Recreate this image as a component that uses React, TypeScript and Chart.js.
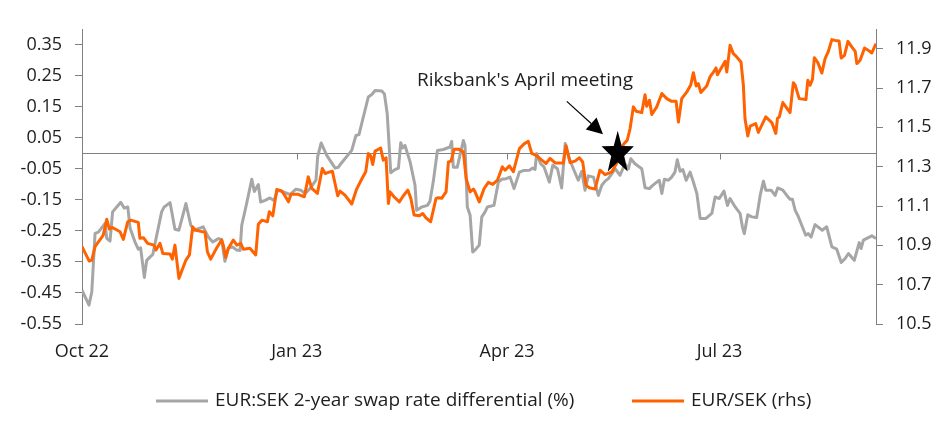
import React, { useEffect, useRef } from 'react';
import { Chart, registerables } from 'chart.js';

Chart.register(...registerables);

// ---- Data (x = days since 1 Oct 2022) ----
const xTickDays = [0, 92, 182, 273];
const xTickLabels = ['Oct 22', 'Jan 23', 'Apr 23', 'Jul 23'];
const leftTicks = [-0.55, -0.45, -0.35, -0.25, -0.15, -0.05, 0.05, 0.15, 0.25, 0.35];
const rightTicks = [10.5, 10.7, 10.9, 11.1, 11.3, 11.5, 11.7, 11.9];
const seriesLabels = ['EUR:SEK 2-year swap rate differential (%)', 'EUR/SEK (rhs)'];
const annotationText = "Riksbank's April meeting";

// EUR:SEK 2-year swap rate differential (%), [day, value]
const swapDiff: [number, number][] = [
  [0, -0.441], [3.0, -0.489], [4.2, -0.446], [5.6, -0.258], [7.0, -0.254], [9.9, -0.226], [10.6, -0.274], [12.0, -0.283],
  [13.1, -0.189], [16.6, -0.158], [18.1, -0.177], [19.6, -0.173], [20.6, -0.242], [22.7, -0.286], [24.1, -0.309], [25.1, -0.305],
  [26.7, -0.400], [27.7, -0.345], [30.3, -0.326], [31.7, -0.275], [34.1, -0.189], [35.2, -0.173], [37.7, -0.159], [39.8, -0.245],
  [41.5, -0.248], [44.5, -0.162], [46.6, -0.232], [48.0, -0.248], [51.9, -0.237], [54.1, -0.270], [56.0, -0.286], [58.4, -0.275],
  [59.8, -0.278], [61.2, -0.348], [62.7, -0.305], [64.5, -0.302], [66.3, -0.312], [67.7, -0.313], [68.4, -0.232], [70.5, -0.162],
  [72.7, -0.084], [73.8, -0.123], [75.5, -0.101], [76.5, -0.157], [78.4, -0.152], [80.5, -0.144], [82.2, -0.152], [83.8, -0.119],
  [86.2, -0.125], [89.1, -0.133], [91.6, -0.116], [93.7, -0.119], [95.5, -0.130], [97.6, -0.114], [100.2, -0.087], [100.9, -0.012],
  [102.4, 0.033], [104.8, -0.007], [108.4, -0.048], [109.8, -0.045], [110.5, -0.037], [115.5, 0.009], [117.3, 0.057], [118.6, 0.060],
  [122.6, 0.181], [124.1, 0.189], [125.5, 0.202], [128.4, 0.200], [129.5, 0.191], [130.7, 0.127], [132.2, -0.063], [134.0, -0.053],
  [135.5, -0.048], [136.5, 0.034], [137.3, 0.017], [138.3, 0.025], [140.5, -0.028], [142.6, -0.103], [143.3, -0.184], [145.5, -0.173],
  [147.9, -0.168], [149.0, -0.155], [150.4, -0.093], [152.2, 0.009], [154.7, 0.012], [157.6, 0.020], [158.3, 0.038], [159.0, -0.045],
  [160.7, -0.045], [163.3, 0.041], [164.0, 0.025], [165.0, -0.173], [166.2, -0.200], [167.3, -0.318], [168.3, -0.312], [170.1, -0.296],
  [171.2, -0.205], [172.6, -0.189], [173.6, -0.173], [176.4, -0.168], [178.3, -0.093], [179.7, -0.084], [181.6, -0.082], [183.3, -0.077],
  [185.0, -0.114], [187.3, -0.061], [189.0, -0.056], [191.6, -0.055], [193.0, -0.048], [194.0, -0.052], [194.7, -0.001], [196.4, -0.034],
  [197.9, -0.045], [200.1, -0.093], [201.6, -0.039], [203.6, -0.050], [205.4, -0.112], [206.9, 0.031], [208.7, -0.018], [210.4, -0.050],
  [212.5, -0.087], [214.0, -0.058], [215.4, -0.119], [216.8, -0.073], [219.0, -0.077], [221.1, -0.136], [222.6, -0.103], [224.0, -0.090],
  [225.4, -0.082], [226.9, -0.066], [228.3, -0.050], [230.4, -0.071], [232.5, -0.034], [234.0, -0.050], [235.0, -0.018], [236.8, -0.034],
  [239.7, -0.050], [241.1, -0.111], [243.0, -0.114], [244.0, -0.106], [246.1, -0.093], [247.2, -0.087], [248.3, -0.130], [249.4, -0.084],
  [251.1, -0.087], [252.5, -0.077], [253.9, -0.061], [254.9, -0.021], [256.1, -0.058], [257.3, -0.053], [258.7, -0.087], [260.4, -0.061],
  [261.8, -0.093], [263.3, -0.130], [264.7, -0.210], [267.2, -0.210], [269.7, -0.194], [271.1, -0.141], [272.9, -0.146], [274.9, -0.122],
  [276.4, -0.168], [277.5, -0.146], [279.7, -0.173], [281.8, -0.194], [282.8, -0.237], [283.6, -0.259], [285.1, -0.198], [286.8, -0.205],
  [288.9, -0.207], [290.4, -0.136], [291.8, -0.090], [292.8, -0.119], [295.1, -0.119], [296.8, -0.136], [297.9, -0.112], [300.1, -0.119],
  [301.8, -0.136], [303.2, -0.148], [304.2, -0.148], [305.4, -0.184], [306.5, -0.200], [308.2, -0.232], [309.9, -0.264], [311.0, -0.259],
  [312.2, -0.270], [313.9, -0.230], [317.0, -0.248], [318.9, -0.237], [321.1, -0.302], [323.2, -0.309], [325.1, -0.352], [326.8, -0.339],
  [328.2, -0.323], [330.7, -0.345], [332.8, -0.288], [333.6, -0.307], [334.6, -0.280], [338.2, -0.266], [340, -0.275],
];

// EUR/SEK (rhs), [day, value]
const eurSek: [number, number][] = [
  [0, 10.893], [3.1, 10.820], [4.2, 10.825], [5.6, 10.893], [9.1, 10.952], [10.6, 11.032], [11.7, 10.983], [13.0, 10.991],
  [16.3, 10.969], [17.7, 10.930], [19.6, 11.020], [20.9, 11.028], [24.1, 11.017], [24.8, 10.936], [26.3, 10.939], [28.1, 10.910],
  [30.8, 10.901], [31.7, 10.876], [33.4, 10.910], [34.6, 10.859], [37.7, 10.856], [38.7, 10.830], [39.8, 10.901], [41.5, 10.732],
  [44.5, 10.825], [46.0, 10.851], [47.4, 10.994], [48.4, 10.978], [52.7, 10.966], [53.7, 10.867], [55.1, 10.830], [57.7, 10.888],
  [59.8, 10.927], [60.5, 10.901], [61.5, 10.839], [62.7, 10.885], [64.8, 10.927], [66.3, 10.901], [68.0, 10.910], [69.1, 10.880],
  [71.9, 10.885], [74.4, 10.851], [75.5, 11.007], [77.0, 11.028], [79.4, 11.020], [80.2, 11.071], [81.7, 11.050], [83.4, 11.184],
  [85.5, 11.177], [86.9, 11.152], [88.4, 11.121], [89.5, 11.160], [92.2, 11.160], [95.2, 11.147], [96.9, 11.248], [98.4, 11.189],
  [100.8, 11.164], [102.9, 11.291], [104.1, 11.265], [105.5, 11.271], [107.2, 11.277], [109.5, 11.152], [110.5, 11.176], [112.6, 11.155],
  [115.5, 11.110], [117.6, 11.186], [119.8, 11.237], [121.5, 11.274], [122.6, 11.367], [123.6, 11.355], [124.5, 11.311], [125.5, 11.379],
  [127.9, 11.395], [129.0, 11.333], [130.2, 11.345], [131.2, 11.113], [131.9, 11.172], [133.6, 11.147], [135.9, 11.121], [137.6, 11.152],
  [139.5, 11.181], [140.8, 11.139], [142.2, 11.054], [144.5, 11.050], [145.9, 11.062], [147.3, 11.040], [149.3, 11.020], [151.6, 11.139],
  [152.6, 11.142], [154.0, 11.139], [155.9, 11.172], [156.9, 11.324], [158.0, 11.328], [159.4, 11.389], [161.2, 11.389], [163.3, 11.375],
  [164.5, 11.240], [166.2, 11.172], [167.6, 11.186], [168.3, 11.172], [170.1, 11.121], [172.2, 11.189], [174.0, 11.220], [175.9, 11.210],
  [177.9, 11.231], [180.0, 11.299], [181.2, 11.282], [183.0, 11.304], [184.7, 11.274], [187.3, 11.392], [189.3, 11.416], [191.1, 11.429],
  [192.6, 11.367], [194.4, 11.358], [196.9, 11.333], [198.7, 11.316], [200.4, 11.342], [202.6, 11.319], [206.1, 11.319], [207.3, 11.406],
  [209.0, 11.321], [211.1, 11.328], [213.0, 11.345], [214.4, 11.324], [215.8, 11.206], [217.3, 11.192], [219.7, 11.186], [221.8, 11.282],
  [224.0, 11.259], [226.9, 11.274], [228.9, 11.316], [231.8, 11.413], [233.5, 11.435], [234.7, 11.494], [236.1, 11.604], [237.3, 11.582],
  [239.7, 11.575], [241.1, 11.666], [241.8, 11.607], [243.0, 11.638], [244.0, 11.565], [246.1, 11.604], [248.3, 11.672], [250.4, 11.646],
  [252.5, 11.632], [254.4, 11.632], [255.4, 11.527], [256.8, 11.646], [259.0, 11.680], [260.7, 11.717], [261.8, 11.778], [263.0, 11.710],
  [263.9, 11.722], [265.0, 11.677], [267.5, 11.710], [268.9, 11.756], [270.4, 11.781], [271.5, 11.802], [272.1, 11.768], [274.0, 11.807],
  [275.4, 11.836], [276.1, 11.781], [277.5, 11.917], [278.9, 11.875], [279.7, 11.866], [282.2, 11.832], [283.2, 11.714], [283.9, 11.545],
  [285.1, 11.456], [286.1, 11.506], [288.5, 11.519], [289.6, 11.474], [291.1, 11.511], [292.8, 11.553], [295.4, 11.524], [297.1, 11.469],
  [297.8, 11.545], [298.6, 11.553], [300.1, 11.626], [303.2, 11.575], [304.6, 11.727], [305.4, 11.714], [307.1, 11.646], [310.0, 11.641],
  [310.8, 11.739], [311.8, 11.714], [312.8, 11.744], [313.6, 11.854], [315.1, 11.829], [316.8, 11.776], [318.2, 11.849], [319.6, 11.886],
  [321.1, 11.946], [322.5, 11.942], [324.2, 11.939], [325.1, 11.852], [326.5, 11.866], [328.0, 11.937], [329.7, 11.908], [331.1, 11.886],
  [331.8, 11.824], [333.2, 11.841], [335.1, 11.903], [336.8, 11.891], [338.2, 11.878], [339.3, 11.908], [340, 11.925],
];

// Annotation anchors in data units (day, left-axis value)
const starAt: [number, number] = [229.4, 0];
const arrowFrom: [number, number] = [207.6, 0.167];
const arrowTo: [number, number] = [223.1, 0.061];
const labelAt: [number, number] = [189.7, 0.234];

const GREY = '#A6A6A6';
const ORANGE = '#FF6200';
const AXIS = '#808080';
const TEXT = '#1e1e1e';
const FONT = "'Open Sans', sans-serif";

const overlayPlugin = {
  id: 'overlay',
  beforeDatasetsDraw(chart: any) {
    const { ctx, chartArea, scales } = chart;
    const x = scales.x;
    const y = scales.y;
    const y0 = Math.round(y.getPixelForValue(0)) + 0.5;
    ctx.save();
    ctx.strokeStyle = AXIS;
    ctx.lineWidth = 1;
    ctx.beginPath();
    ctx.moveTo(chartArea.left, y0);
    ctx.lineTo(chartArea.right, y0);
    xTickDays.forEach((d) => {
      if (d === xTickDays[0]) return;
      const px = Math.round(x.getPixelForValue(d)) + 0.5;
      ctx.moveTo(px, y0);
      ctx.lineTo(px, y0 + 6);
    });
    ctx.stroke();
    ctx.restore();
  },
  afterDatasetsDraw(chart: any) {
    const { ctx, scales } = chart;
    const x = scales.x;
    const y = scales.y;
    ctx.save();
    // star
    const cx = x.getPixelForValue(starAt[0]);
    const cy = y.getPixelForValue(starAt[1]);
    const rx = 17;
    const ry = 22.5;
    const inner = 0.4;
    ctx.beginPath();
    for (let i = 0; i < 10; i++) {
      const a = (i * Math.PI) / 5;
      const r = i % 2 === 0 ? 1 : inner;
      const px = cx + rx * r * Math.sin(a);
      const py = cy - ry * r * Math.cos(a);
      if (i === 0) ctx.moveTo(px, py);
      else ctx.lineTo(px, py);
    }
    ctx.closePath();
    ctx.fillStyle = '#000';
    ctx.fill();

    // arrow
    const ax0 = x.getPixelForValue(arrowFrom[0]);
    const ay0 = y.getPixelForValue(arrowFrom[1]);
    const ax1 = x.getPixelForValue(arrowTo[0]);
    const ay1 = y.getPixelForValue(arrowTo[1]);
    const len = Math.hypot(ax1 - ax0, ay1 - ay0);
    const ux = (ax1 - ax0) / len;
    const uy = (ay1 - ay0) / len;
    const headLen = 16;
    const headW = 8;
    const bx = ax1 - ux * headLen;
    const by = ay1 - uy * headLen;
    ctx.strokeStyle = '#000';
    ctx.lineWidth = 1.2;
    ctx.beginPath();
    ctx.moveTo(ax0, ay0);
    ctx.lineTo(bx, by);
    ctx.stroke();
    ctx.beginPath();
    ctx.moveTo(ax1, ay1);
    ctx.lineTo(bx - uy * headW, by + ux * headW);
    ctx.lineTo(bx + uy * headW, by - ux * headW);
    ctx.closePath();
    ctx.fillStyle = '#000';
    ctx.fill();

    // label
    ctx.font = `19px ${FONT}`;
    ctx.fillStyle = TEXT;
    ctx.textAlign = 'center';
    ctx.textBaseline = 'middle';
    ctx.fillText(annotationText, x.getPixelForValue(labelAt[0]), y.getPixelForValue(labelAt[1]));
    ctx.restore();
  },
  afterDraw(chart: any) {
    const { ctx } = chart;
    const items = chart.data.datasets.map((ds: any) => ({ label: ds.label, color: ds.borderColor }));
    const starts = [156, 632];
    const ly = 401;
    ctx.save();
    ctx.font = `19px ${FONT}`;
    ctx.textAlign = 'left';
    ctx.textBaseline = 'middle';
    items.forEach((it: any, i: number) => {
      const sx = starts[i];
      ctx.strokeStyle = it.color;
      ctx.lineWidth = 3;
      ctx.beginPath();
      ctx.moveTo(sx, ly);
      ctx.lineTo(sx + 52, ly);
      ctx.stroke();
      ctx.fillStyle = TEXT;
      ctx.fillText(it.label, sx + 59, ly);
    });
    ctx.restore();
  },
};

export default function App() {
  const canvasRef = useRef<HTMLCanvasElement | null>(null);

  useEffect(() => {
    document.body.style.margin = '0';
    const canvas = canvasRef.current;
    if (!canvas) return;
    const tickFont = { family: FONT, size: 18 };
    const chart = new Chart(canvas, {
      type: 'line',
      data: {
        datasets: [
          {
            label: seriesLabels[0],
            data: swapDiff.map(([d, v]) => ({ x: d, y: v })),
            borderColor: GREY,
            backgroundColor: GREY,
            borderWidth: 3,
            pointRadius: 0,
            tension: 0,
            borderJoinStyle: 'round',
            yAxisID: 'y',
            order: 1,
          },
          {
            label: seriesLabels[1],
            data: eurSek.map(([d, v]) => ({ x: d, y: v })),
            borderColor: ORANGE,
            backgroundColor: ORANGE,
            borderWidth: 3,
            pointRadius: 0,
            tension: 0,
            borderJoinStyle: 'round',
            yAxisID: 'y2',
            order: 0,
          },
        ],
      },
      options: {
        responsive: false,
        animation: false,
        events: [],
        layout: { padding: { top: 29, left: 0, right: 0, bottom: 0 } },
        plugins: { legend: { display: false }, tooltip: { enabled: false } },
        scales: {
          x: {
            type: 'linear',
            min: 0,
            max: 340,
            grid: { display: false, drawTicks: false, tickLength: 0 },
            border: { display: false },
            afterBuildTicks: (scale: any) => {
              scale.ticks = xTickDays.map((v) => ({ value: v }));
            },
            afterFit: (scale: any) => {
              scale.height = 114;
            },
            ticks: {
              autoSkip: false,
              maxRotation: 0,
              padding: 17,
              color: TEXT,
              font: tickFont,
              callback: (value: any) => {
                const i = xTickDays.indexOf(Number(value));
                return i >= 0 ? xTickLabels[i] : '';
              },
            },
          },
          y: {
            type: 'linear',
            position: 'left',
            min: -0.55,
            max: 0.4,
            grid: { drawOnChartArea: false, drawTicks: true, tickLength: 7, color: AXIS },
            border: { display: true, color: AXIS, width: 1 },
            afterBuildTicks: (scale: any) => {
              scale.ticks = leftTicks.map((v) => ({ value: v }));
            },
            afterFit: (scale: any) => {
              scale.width = 82;
            },
            ticks: {
              autoSkip: false,
              padding: 13,
              color: TEXT,
              font: tickFont,
              callback: (value: any) => Number(value).toFixed(2),
            },
          },
          y2: {
            type: 'linear',
            position: 'right',
            min: 10.5,
            max: 12.0,
            grid: { drawOnChartArea: false, drawTicks: true, tickLength: 7, color: AXIS },
            border: { display: true, color: AXIS, width: 1 },
            afterBuildTicks: (scale: any) => {
              scale.ticks = rightTicks.map((v) => ({ value: v }));
            },
            afterFit: (scale: any) => {
              scale.width = 76;
            },
            ticks: {
              autoSkip: false,
              padding: 13,
              color: TEXT,
              font: tickFont,
              callback: (value: any) => Number(value).toFixed(1),
            },
          },
        },
      },
      plugins: [overlayPlugin],
    } as any);

    let alive = true;
    if ((document as any).fonts && (document as any).fonts.load) {
      Promise.all([
        (document as any).fonts.load(`18px 'Open Sans'`),
        (document as any).fonts.load(`19px 'Open Sans'`),
      ])
        .then(() => {
          if (alive) chart.update();
        })
        .catch(() => {});
    }
    return () => {
      alive = false;
      chart.destroy();
    };
  }, []);

  return (
    <div style={{ width: 952, height: 438 }}>
      <canvas ref={canvasRef} width={952} height={438} style={{ display: 'block' }} />
    </div>
  );
}
